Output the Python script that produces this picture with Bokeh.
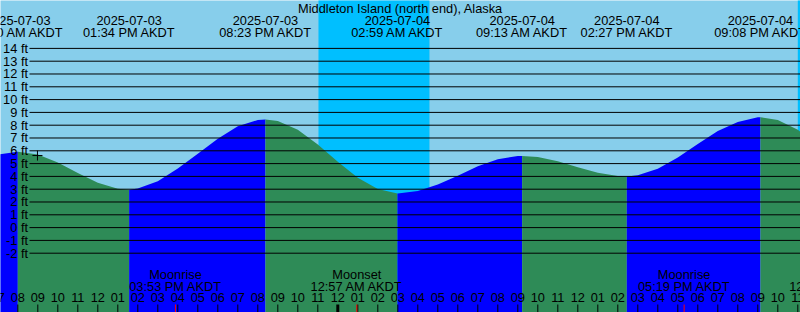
import math
import pandas as pd
from bokeh.plotting import figure
from bokeh.models import Range1d
from bokeh.core.properties import value
from bokeh.embed import file_html
from bokeh.resources import INLINE

# ---------------- data ----------------
station = "Middleton Island (north end), Alaska"
tz_label = "AKDT"

# tide extremes (high / low)
tide_times = ["2025-07-03 08:00", "2025-07-03 13:34", "2025-07-03 20:23",
              "2025-07-04 02:59", "2025-07-04 09:13", "2025-07-04 14:27",
              "2025-07-04 21:08"]
tide_heights = [5.93, 2.95, 8.45, 2.66, 5.60, 4.00, 8.62]

# hourly water level, starting 2025-07-03 07:00
hourly_start = "2025-07-03 07:00"
hourly_heights = [5.71, 5.93, 5.71, 5.09, 4.27, 3.50, 3.03,   # 07-13
                  3.05, 3.62, 4.62, 5.76, 6.95, 7.91, 8.41,   # 14-20
                  8.33, 7.64, 6.49, 5.14, 3.89, 3.01, 2.66,   # 21-03
                  2.85, 3.36, 4.06, 4.79, 5.34, 5.59, 5.51,   # 04-10
                  5.18, 4.72, 4.28, 4.03, 4.08, 4.59, 5.47,   # 11-17
                  6.54, 7.55, 8.25, 8.62, 8.40, 7.64, 6.51]   # 18-00

moon_times = ["2025-07-03 15:53", "2025-07-04 00:57",
              "2025-07-04 17:19", "2025-07-05 00:53"]
moon_events = ["Moonrise", "Moonset", "Moonrise", "Moonset"]

sunset_times = ["2025-07-03 23:02", "2025-07-04 23:00"]
sunrise_times = ["2025-07-04 04:35", "2025-07-05 04:38"]

now_time = "2025-07-03 08:59"
now_height = 5.63

ft_levels = list(range(-2, 15))

# ---------------- helpers ----------------
BASE = pd.Timestamp("2025-07-03 00:00")


def hrs(t):
    return (pd.Timestamp(t) - BASE) / pd.Timedelta(hours=1)


W, H = 800, 312
PX_PER_HOUR = 20.0
X0 = 7.135
PX_PER_FT = 12.8
Y_TOP = 17.742
X1 = X0 + W / PX_PER_HOUR
Y_BOT = Y_TOP - H / PX_PER_FT


def py(px):
    return Y_TOP - px / PX_PER_FT


def px_x(px):
    return X0 + px / PX_PER_HOUR


FONT = value("Liberation Sans")
FSIZE = value("12.8px")

SKY = "#87CEEB"
NIGHT = "#00BFFF"
RISE = "#0000FF"
FALL = "#2E8B57"

p = figure(width=W, height=H, x_range=Range1d(X0, X1), y_range=Range1d(Y_BOT, Y_TOP),
           x_axis_type=None, y_axis_type=None, output_backend="svg",
           toolbar_location=None, min_border=0, background_fill_color=SKY,
           border_fill_color=SKY)
p.grid.visible = False
p.outline_line_color = None

# night bands
p.quad(left=[hrs(t) for t in sunset_times], right=[hrs(t) for t in sunrise_times],
       bottom=Y_BOT - 1, top=Y_TOP + 1, fill_color=NIGHT, line_color=None)

# water fill, coloured by rising / falling
tide_h = [hrs(t) for t in tide_times]
start_h = hrs(hourly_start)
hourly_h = [start_h + i for i in range(len(hourly_heights))]
pts = {}
for t, v in zip(hourly_h, hourly_heights):
    pts[round(t, 4)] = v
for t, v in zip(tide_h, tide_heights):
    pts[round(t, 4)] = v
pts = sorted(pts.items())
bounds = [pts[0][0]] + [round(t, 4) for t in tide_h] + [pts[-1][0]]
for a, b in zip(bounds[:-1], bounds[1:]):
    seg = [(t, v) for t, v in pts if a <= t <= b]
    if len(seg) < 2:
        continue
    rising = seg[-1][1] > seg[0][1]
    p.varea(x=[s[0] for s in seg], y1=Y_BOT - 1, y2=[s[1] for s in seg],
            fill_color=RISE if rising else FALL)

# depth lines
p.segment(x0=px_x(29), y0=ft_levels, x1=X1 + 1, y1=ft_levels,
          line_color="black", line_width=1)
p.text(x=px_x(27.5), y=ft_levels, text=[f"{f} ft" for f in ft_levels],
       text_align="right", text_baseline="middle", text_font=FONT,
       text_font_size=FSIZE, text_color="black")

# now marker
p.scatter(x=[hrs(now_time)], y=[now_height], marker="cross", size=10,
          line_color="black", line_width=1)

# title
p.text(x=[px_x(400)], y=[py(7.5)], text=[station], text_align="center",
       text_baseline="middle", text_font=FONT, text_font_size=FSIZE, text_color="black")

# tide event labels
p.text(x=tide_h, y=py(19.5), text=[pd.Timestamp(t).strftime("%Y-%m-%d") for t in tide_times],
       text_align="center", text_baseline="middle", text_font=FONT,
       text_font_size=FSIZE, text_color="black")
p.text(x=tide_h, y=py(31.5),
       text=[pd.Timestamp(t).strftime("%I:%M %p ") + tz_label for t in tide_times],
       text_align="center", text_baseline="middle", text_font=FONT,
       text_font_size=FSIZE, text_color="black")

# hour ticks and labels
hours = list(range(int(math.floor(X0)), int(math.ceil(X1)) + 1))
p.text(x=hours, y=py(297.3), text=[f"{(h - 1) % 12 + 1:02d}" for h in hours],
       text_align="center", text_baseline="middle", text_font=FONT,
       text_font_size=FSIZE, text_color="black")
p.segment(x0=hours, y0=py(304), x1=hours, y1=py(313),
          line_color="black", line_width=[3 if h % 24 == 0 else 1 for h in hours])

# moon events
moon_h = [hrs(t) for t in moon_times]
p.segment(x0=moon_h, y0=py(304), x1=moon_h, y1=py(313), line_color="red", line_width=1)
p.text(x=moon_h, y=py(273.5), text=moon_events, text_align="center",
       text_baseline="middle", text_font=FONT, text_font_size=FSIZE, text_color="black")
p.text(x=moon_h, y=py(285.5),
       text=[pd.Timestamp(t).strftime("%I:%M %p ") + tz_label for t in moon_times],
       text_align="center", text_baseline="middle", text_font=FONT,
       text_font_size=FSIZE, text_color="black")

open("out.html", "w").write(file_html(p, INLINE))
